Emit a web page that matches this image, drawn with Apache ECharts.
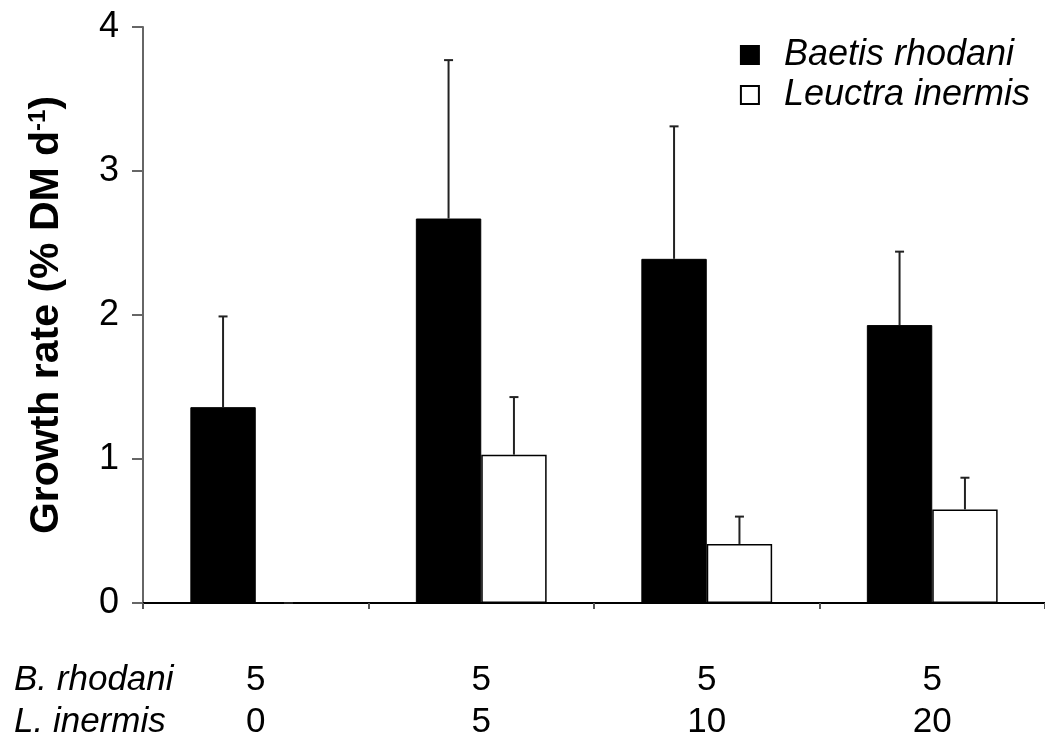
<!DOCTYPE html>
<html>
<head>
<meta charset="utf-8">
<script src="https://cdn.jsdelivr.net/npm/echarts@6/dist/echarts.min.js"></script>
<style>html,body{margin:0;padding:0;background:#fff}#c{width:1045px;height:743px}</style>
</head>
<body>
<div id="c"></div>
<script>
// ---- data ----
var categories = ['c1', 'c2', 'c3', 'c4'];
var rhodaniDensity = [5, 5, 5, 5];
var inermisDensity = [0, 5, 10, 20];
var baetisGrowth = [1.36, 2.67, 2.39, 1.93];
var baetisErrTop = [1.99, 3.77, 3.31, 2.44];
var leuctraGrowth = [0, 1.03, 0.41, 0.65];
var leuctraErrTop = [0, 1.43, 0.60, 0.87];
var yTicks = [0, 1, 2, 3, 4];

var FONT = '"Liberation Sans", Arial, Helvetica, sans-serif';
var CAT_GAP = 0.42;

function errSeries(name, vals, tops, side) {
  var d = [];
  for (var i = 0; i < vals.length; i++) d.push([i, vals[i], tops[i]]);
  return {
    type: 'custom', name: name + ' err', data: d, z: 5, silent: true,
    renderItem: function (params, api) {
      var ci = api.value(0);
      var base = api.coord([ci, api.value(1)]);
      var top = api.coord([ci, api.value(2)]);
      var bw = api.size([1, 0])[0] * (1 - CAT_GAP) / 2;
      var x = base[0] + side * bw / 2;
      var cap = 4.5;
      var st = { stroke: '#222', lineWidth: 2 };
      return { type: 'group', children: [
        { type: 'line', shape: { x1: x, y1: base[1], x2: x, y2: top[1] }, style: st },
        { type: 'line', shape: { x1: x - cap, y1: top[1], x2: x + cap, y2: top[1] }, style: st }
      ]};
    }
  };
}

var chart = echarts.init(document.getElementById('c'), null, { renderer: 'canvas' });
chart.setOption({
  animation: false,
  backgroundColor: '#fff',
  textStyle: { fontFamily: FONT },
  grid: { left: 143, right: -7, top: 27, bottom: 136, containLabel: false },
  legend: {
    orient: 'vertical', right: 10, top: 32, itemWidth: 18, itemHeight: 18, itemGap: 4,
    icon: 'rect',
    data: ['Baetis rhodani', 'Leuctra inermis'],
    textStyle: { fontFamily: FONT, fontSize: 36, fontStyle: 'italic', color: '#000', padding: [0, 0, 0, 20] }
  },
  xAxis: {
    type: 'category', data: categories,
    axisLine: { lineStyle: { color: '#000', width: 2 } },
    axisTick: { show: true, length: 6, lineStyle: { color: '#555', width: 2 } },
    axisLabel: {
      margin: 56, fontSize: 35, color: '#000', lineHeight: 42, fontFamily: FONT,
      formatter: function (v, i) { return rhodaniDensity[i] + '\n' + inermisDensity[i]; }
    }
  },
  yAxis: {
    type: 'value', min: yTicks[0], max: yTicks[yTicks.length - 1], interval: 1,
    splitLine: { show: false },
    axisLine: { show: true, lineStyle: { color: '#666', width: 2 } },
    axisTick: { show: true, length: 11, lineStyle: { color: '#666', width: 2 } },
    axisLabel: { margin: 24, fontSize: 36, color: '#000', fontFamily: FONT },
    name: '{a|Growth rate (% DM d}{s|-1}{a|)}',
    nameLocation: 'middle', nameGap: 76, nameRotate: 90,
    nameTextStyle: {
      rich: {
        a: { fontSize: 41, fontWeight: 'bold', color: '#000', fontFamily: FONT },
        s: { fontSize: 24, fontWeight: 'bold', color: '#000', fontFamily: FONT, verticalAlign: 'top', padding: [0, 0, 16, 0] }
      }
    }
  },
  graphic: [
    { type: 'text', left: 14, top: 663, style: { text: 'B. rhodani', fontSize: 35, fontStyle: 'italic', fontFamily: FONT, fill: '#000' } },
    { type: 'text', left: 14, top: 705, style: { text: 'L. inermis', fontSize: 35, fontStyle: 'italic', fontFamily: FONT, fill: '#000' } }
  ],
  series: [
    { name: 'Baetis rhodani', type: 'bar', data: baetisGrowth, barGap: '0%', barCategoryGap: (CAT_GAP * 100) + '%',
      itemStyle: { color: '#000', borderColor: '#000', borderWidth: 1 } },
    { name: 'Leuctra inermis', type: 'bar', data: leuctraGrowth, barGap: '0%', barCategoryGap: (CAT_GAP * 100) + '%',
      itemStyle: { color: '#fff', borderColor: '#000', borderWidth: 1.5 } },
    errSeries('Baetis rhodani', baetisGrowth, baetisErrTop, -1),
    errSeries('Leuctra inermis', leuctraGrowth, leuctraErrTop, 1)
  ]
});
</script>
</body>
</html>
